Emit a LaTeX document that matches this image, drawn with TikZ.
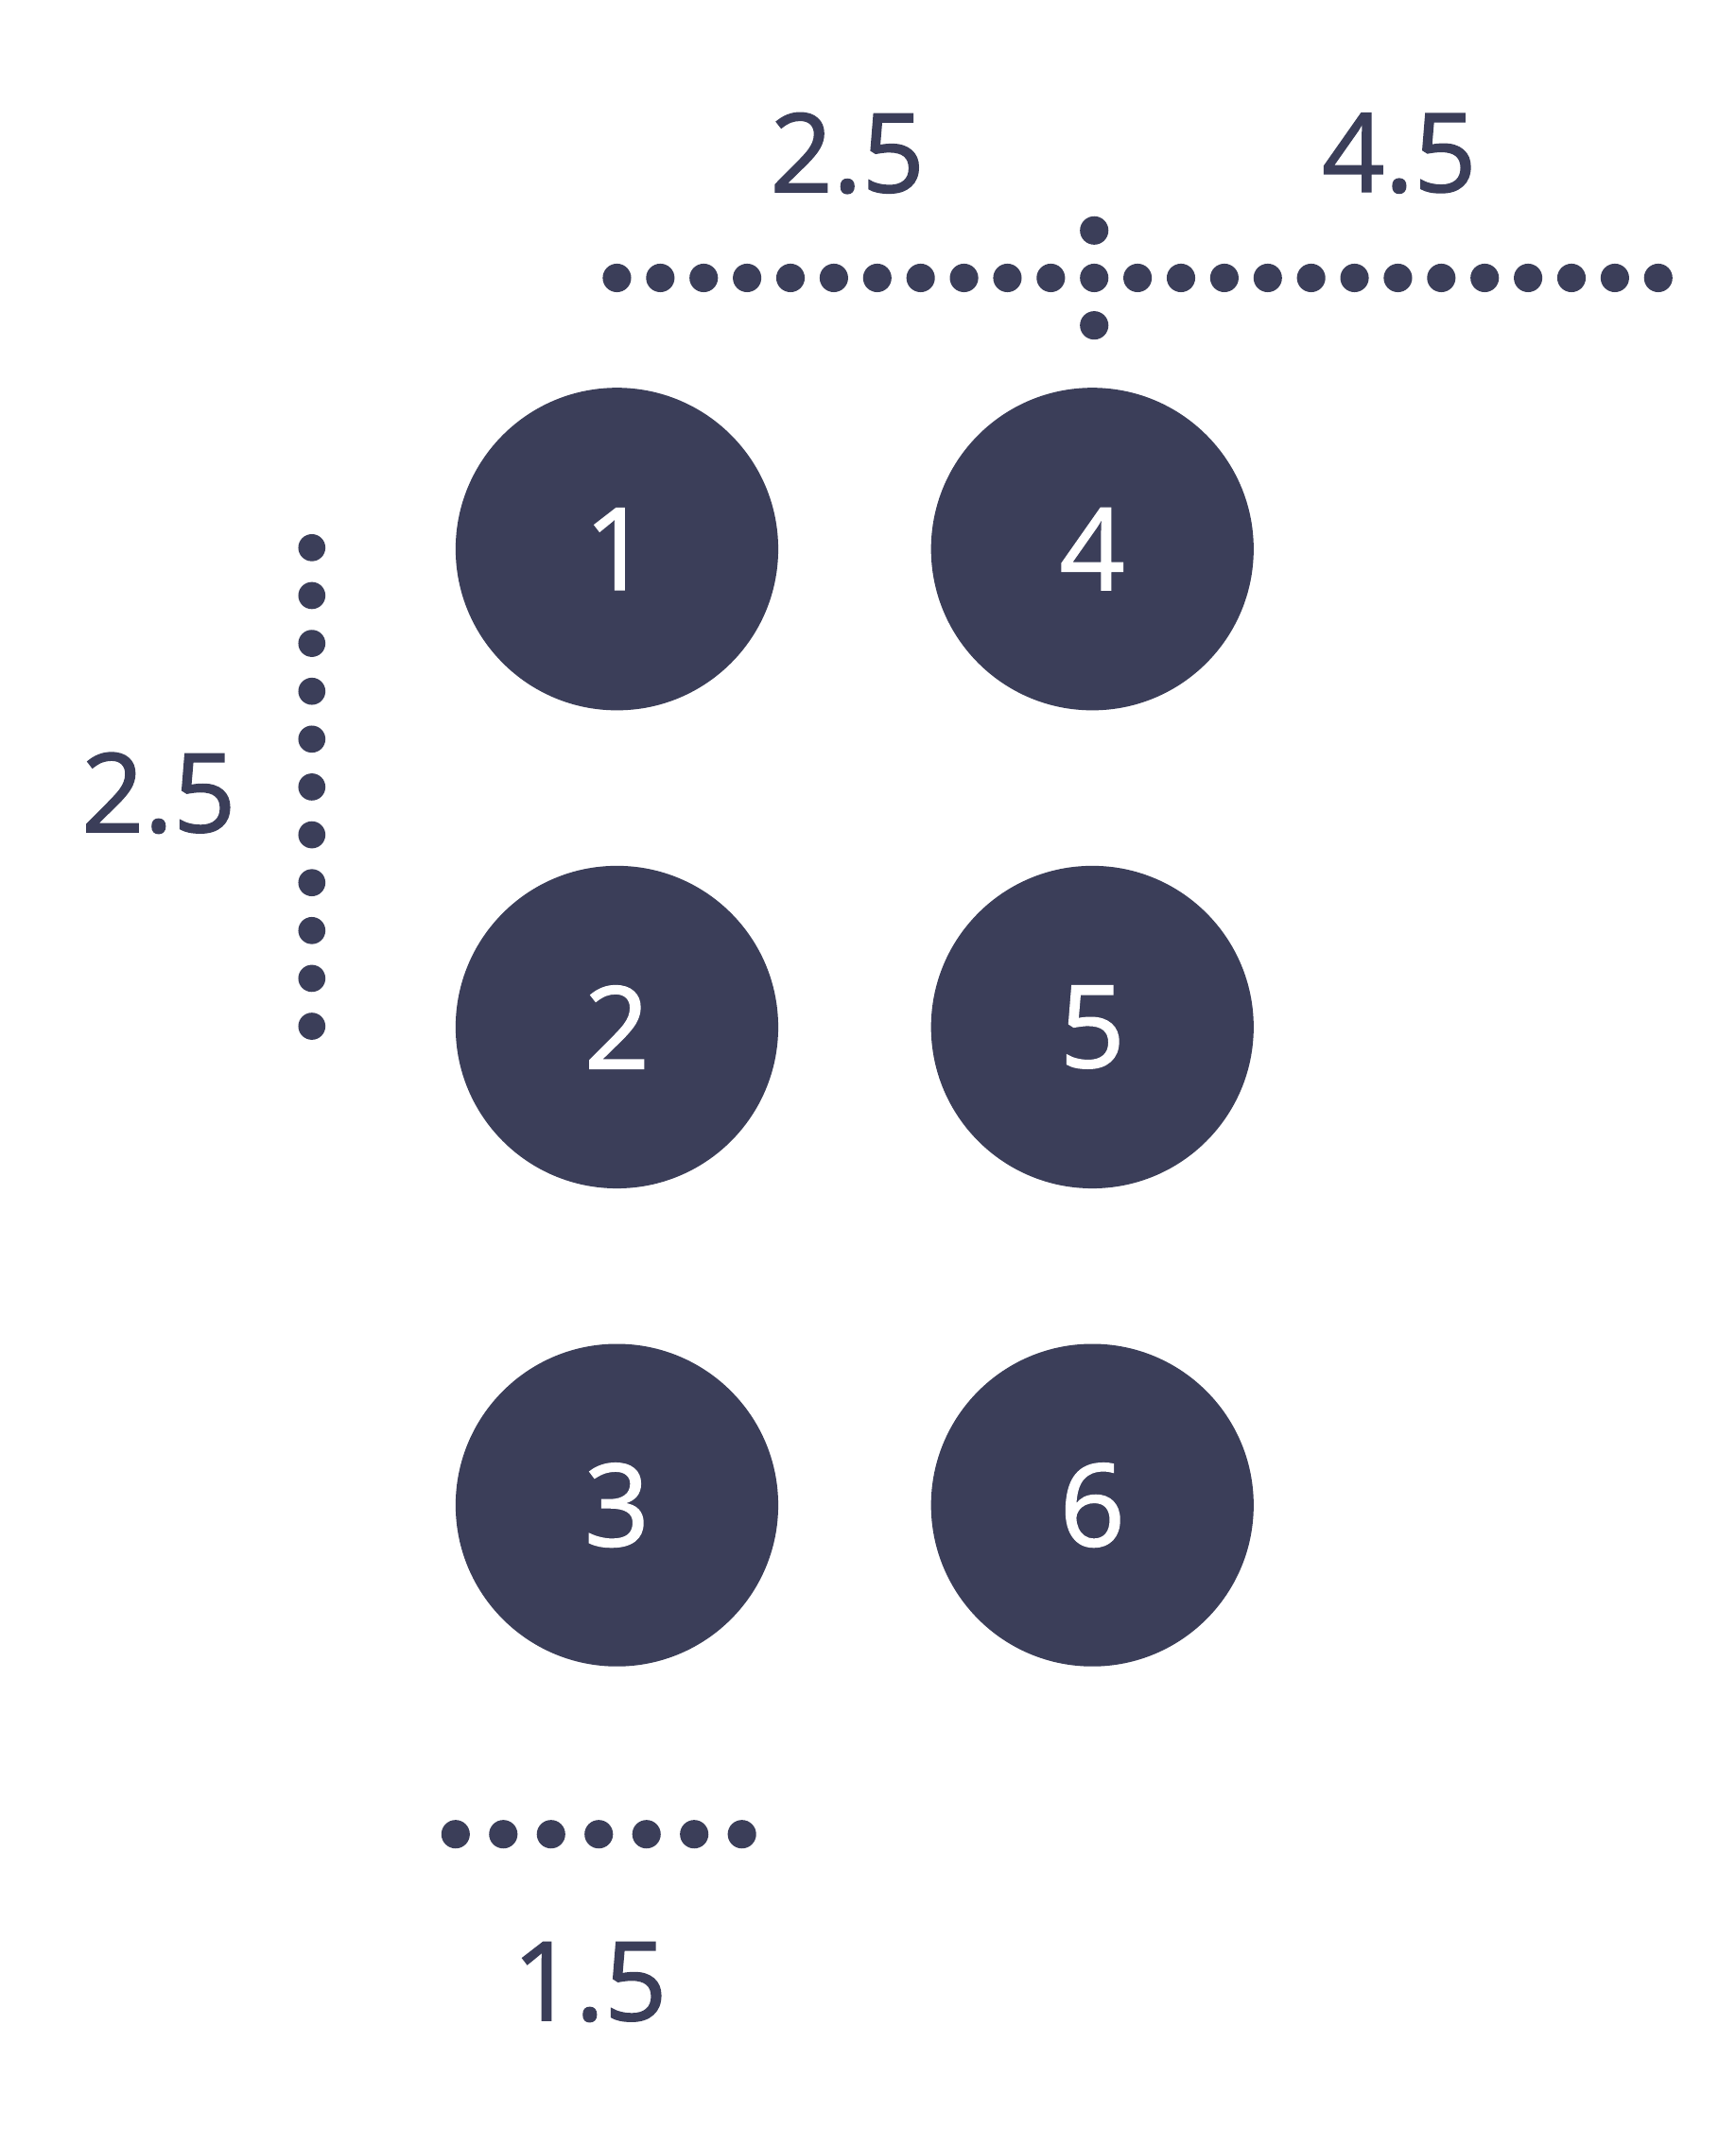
\documentclass[tikz,border=0pt]{standalone}
\usepackage{fontspec}
\setmainfont{Open Sans}
\newfontfamily\numfont{Open Sans}[FakeBold=1.3]
\usetikzlibrary{positioning}
\definecolor{slate}{HTML}{3B3E59}
\tikzset{
  hole/.style={circle, fill=slate, minimum size=4.76cm, inner sep=0pt,
    text=white, font=\numfont\fontsize{48}{48}\selectfont},
  dimlabel/.style={text=slate, font=\numfont\fontsize{46}{46}\selectfont},
  gap/.style={fill=slate}
}

\begin{document}
\begin{tikzpicture}[x=0.02cm, y=-0.02cm]
  \useasboundingbox (0,0) rectangle (1280,1583);
  % the six holes
  \node[hole] (h1) at (455,405) {1};
  \node[hole, below=2.28cm of h1] (h2) {2};
  \node[hole, below=2.28cm of h2] (h3) {3};
  \node[hole, right=2.24cm of h1] (h4) {4};
  \node[hole, right=2.24cm of h2] (h5) {5};
  \node[hole, right=2.24cm of h3] (h6) {6};
  % dotted measures
  \foreach \i in {0,...,24}
    \fill[gap] (455+32*\i,205) circle (10.5);
  \fill[gap] (807,170) circle (10.5);
  \fill[gap] (807,240) circle (10.5);
  \foreach \i in {0,...,10}
    \fill[gap] (230,404+35.3*\i) circle (10);
  \foreach \i in {0,...,6}
    \fill[gap] (336+35.2*\i,1353) circle (10.5);
  % labels
  \node[dimlabel] (top a) at (625,113) {2.5};
  \node[dimlabel] (top b) at (1032,113) {4.5};
  \node[dimlabel] (side) at (117,585) {2.5};
  \node[dimlabel] (bottom) at (435,1462) {1.5};
\end{tikzpicture}
\end{document}
